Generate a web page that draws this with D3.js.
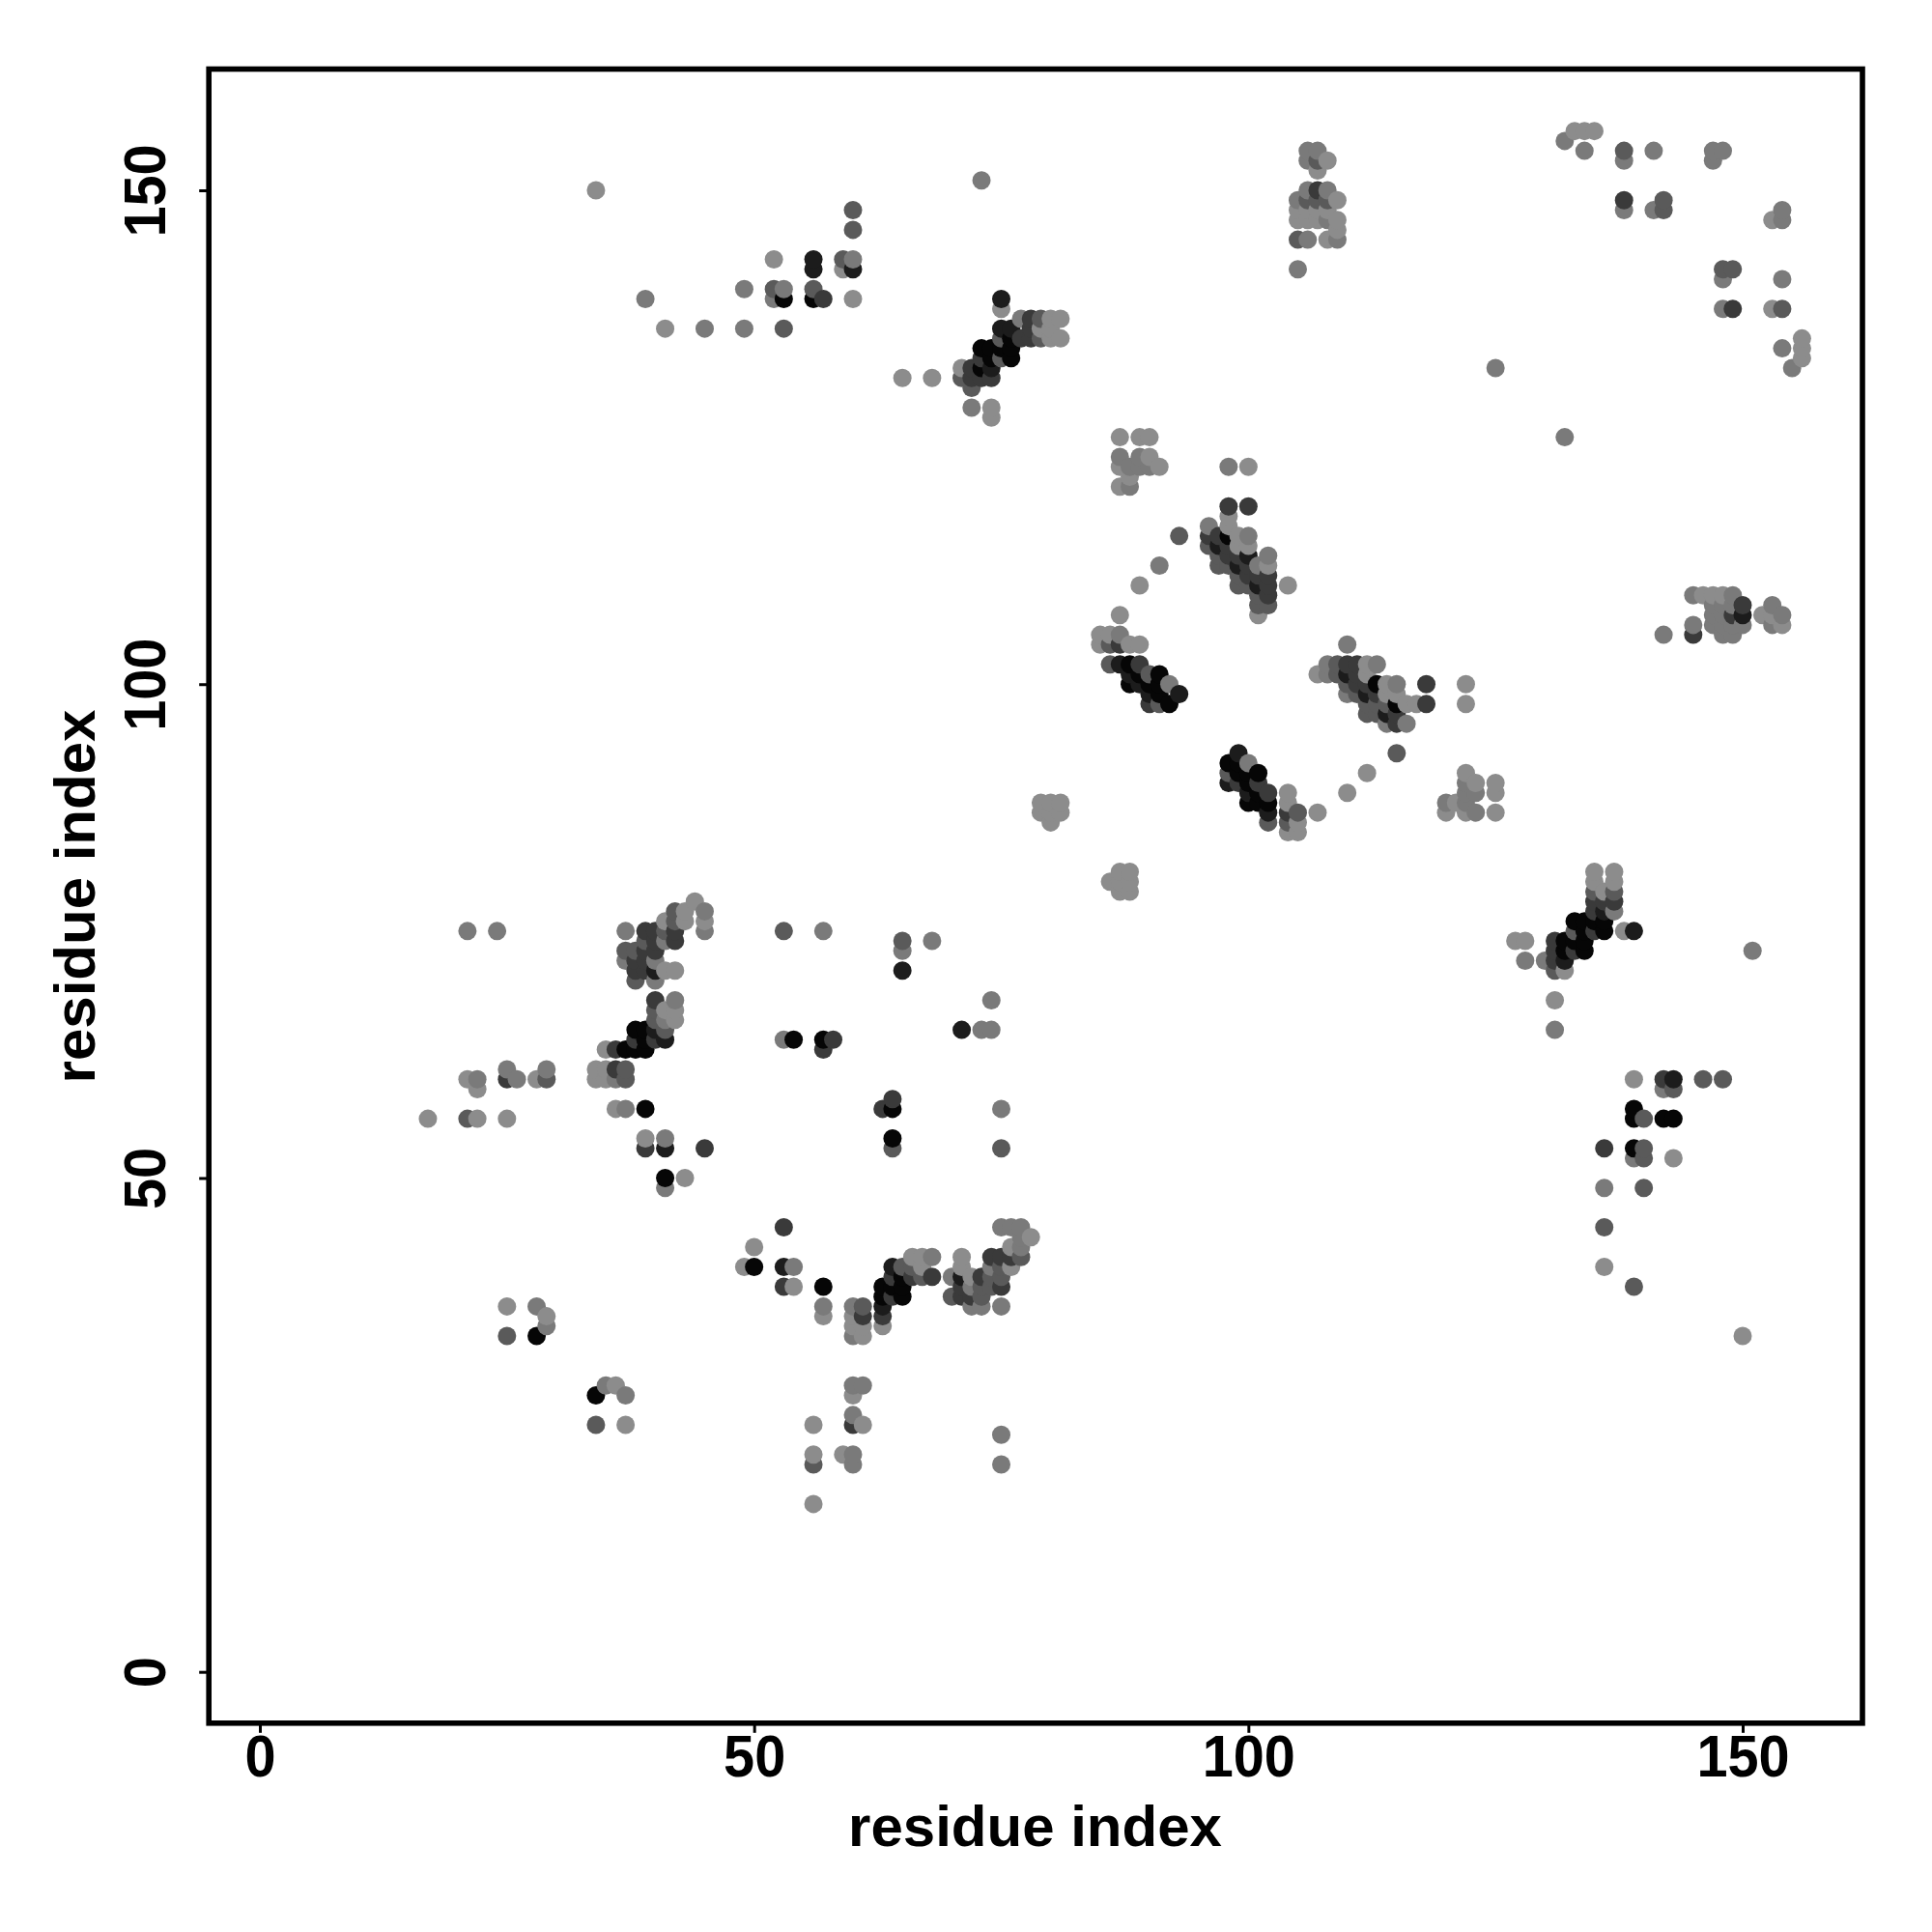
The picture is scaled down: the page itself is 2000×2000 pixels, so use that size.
<!DOCTYPE html>
<html><head><meta charset="utf-8">
<script src="https://cdnjs.cloudflare.com/ajax/libs/d3/7.9.0/d3.min.js"></script>
<style>html,body{margin:0;padding:0;background:#fff}svg{display:block}</style>
</head><body><div id="c"></div>
<script>
// contact strength classes, weakest to strongest
const L=1,M=2,D=3,K=4,N=5,B=6;
const strengthClasses=[L,M,D,K,N,B];
const grayLevels=[140,122,90,58,28,6];
const xTicks=[0,50,100,150], yTicks=[0,50,100,150];
const axisTitle="residue index";

const contactsLeft=[[17,56,L],[21,75,M],[24,75,M],[44,78,L],[42,77,D],[43,77,L],[45,77,M],[45,76,L],[45,75,M],[43,76,L],[41,76,L],[42,76,D],[42,75,K],[42,74,K],[41,75,D],[41,74,M],[39,75,K],[40,75,K],[37,75,M],[39,74,D],[40,74,K],[40,73,K],[37,73,D],[37,72,M],[38,73,D],[38,72,K],[38,71,K],[38,70,D],[39,73,K],[39,72,K],[39,71,K],[40,72,M],[40,70,M],[40,71,N],[41,71,L],[42,71,L],
[40,68,K],[42,68,M],[41,67,L],[42,67,L],[40,67,D],[42,66,L],[41,66,M],[40,66,D],[41,65,D],[41,64,N],[40,65,N],[40,64,K],[38,65,B],[39,65,B],[38,64,K],[39,64,B],[38,63,B],[39,63,B],[37,63,B],[36,63,K],[35,63,L],
[34,61,L],[35,61,L],[36,61,K],[37,61,D],[34,60,L],[35,60,L],[36,60,M],[37,60,D],[21,60,L],[22,60,M],[22,59,L],[25,61,M],[25,60,K],[26,60,M],[28,60,L],[29,61,M],[29,60,D],[36,57,L],[37,57,M],[39,57,B],[21,56,D],[22,56,L],[25,56,L],[39,54,L],[41,54,M],[39,53,K],[41,53,N],[45,53,K],[41,50,B],[41,49,M],[43,50,L],[50,43,L]];

const contactsBottom=[[25,37,L],[28,37,M],[29,36,L],[29,35,M],[25,34,D],[28,34,B],[34,28,B],[35,29,M],[36,29,L],[37,28,M],[34,25,D],[37,25,L],[49,41,L],[50,41,B],[53,45,K],[53,41,N],[54,41,M],[53,39,K],[54,39,L],[57,39,B],[57,37,M],[57,36,L],[60,37,M],[61,37,D],[60,36,L],[61,36,K],[61,35,L],[60,35,L],[60,34,M],[61,34,L],
[63,35,L],[63,36,K],[63,37,N],[63,38,B],[63,39,B],[64,41,N],[64,40,K],[64,39,B],[64,38,K],[65,40,B],[65,39,B],[65,38,B],[65,41,D],[66,42,L],[66,41,D],[66,40,K],[67,42,L],[67,41,L],[67,40,D],[68,42,M],[68,40,K],
[71,42,L],[71,41,L],[70,40,M],[71,40,N],[70,38,D],[71,39,K],[71,38,K],[72,40,L],[72,39,M],[72,38,K],[72,37,M],[73,40,K],[73,39,D],[73,38,D],[73,37,M],[74,42,K],[74,41,M],[74,40,D],[74,39,D],[75,42,K],[75,41,D],[75,40,D],[75,39,K],[75,37,M],[76,41,L],[76,43,L],[76,42,K],[77,42,D],[77,43,M],[77,44,M],[75,45,M],[76,45,M],[77,45,M],[78,44,L],
[60,29,M],[61,29,M],[60,28,L],[60,26,M],[60,25,K],[61,25,L],[56,25,L],[56,22,L],[56,21,D],[59,22,L],[60,22,M],[60,21,M],[56,17,L],[75,24,M],[75,21,M]];

const contactsMiddle=[[53,75,D],[57,75,M],[65,74,D],[65,73,M],[65,71,N],[68,74,M],[74,68,M],[71,65,N],[73,65,M],[74,65,M],[53,64,M],[54,64,B],[57,64,B],[57,63,K],[58,64,K],[64,58,K],[63,57,K],[64,57,B],[64,54,B],[64,53,D],[75,57,M],[75,53,D]];

const contactsTop=[[34,150,L],[60,148,D],[60,146,D],[39,139,M],[41,136,L],[45,136,M],[49,136,M],[53,136,D],[49,140,M],[52,143,L],[52,140,D],[52,139,M],[53,140,M],[53,139,B],[56,143,N],[56,142,N],[56,140,D],[56,139,B],[57,139,K],[59,143,D],[60,143,M],[59,142,L],[60,142,N],[60,139,L],[73,151,M],[65,131,L],[68,131,L],[71,132,L],[71,131,D],[72,132,K],[72,131,K],[72,130,D],[72,128,M],[74,128,L],[74,127,L],[73,134,B],[74,134,B],[73,133,K],[73,132,B],[73,131,K],[74,133,B],[74,132,N],[74,131,K],[75,139,N],[75,138,L],[75,136,N],[75,135,D],[75,134,B],[75,133,D],[76,136,N],[76,135,B],[76,134,B],[76,133,B],[77,137,M],[77,135,K],[78,137,K],[78,136,K],[78,135,K],[79,137,D],[79,136,L],[79,135,D],[80,137,L],[80,135,L],[81,137,L],[81,135,L],[80,136,L]];

const contactsCentre=[[87,125,L],[89,125,L],[90,125,L],[87,123,M],[87,122,L],[88,122,M],[89,123,M],[90,123,L],[89,122,M],[90,122,M],[91,122,L],[87,120,L],[88,121,L],[88,120,M],
[98,122,M],[100,122,L],[98,118,K],[100,118,K],[98,117,L],[98,116,L],[93,115,D],[91,112,M],[89,110,L],[96,116,M],[96,115,K],[96,114,D],[97,115,K],[97,114,N],[97,113,D],[97,112,D],[98,115,B],[98,114,K],[98,113,K],[98,112,D],[99,115,L],[99,114,L],[99,113,K],[99,112,N],[99,111,D],[99,110,D],[100,115,M],[100,114,L],[100,113,N],[100,112,K],[100,111,K],[100,110,D],[101,112,M],[101,111,K],[101,110,N],[101,109,D],[101,108,D],[101,107,L],[102,113,M],[102,112,L],[102,111,K],[102,110,K],[102,109,K],[102,108,D],[104,110,L],
[87,107,L],[85,105,L],[86,105,L],[87,105,M],[85,104,L],[86,104,D],[87,104,K],[88,104,L],[89,104,L],
[86,102,D],[87,102,N],[88,102,B],[89,102,K],[88,101,N],[88,100,B],[89,101,B],[89,100,N],[90,101,D],[90,100,B],[90,99,N],[90,98,K],[91,101,B],[91,100,B],[91,99,B],[91,98,D],[92,100,M],[92,98,B],[93,99,N],
[99,93,N],[98,92,B],[98,91,D],[98,90,N],[99,92,B],[99,91,B],[99,90,K],[100,92,M],[100,91,B],[100,90,B],[100,89,N],[100,88,B],[101,91,B],[101,90,K],[101,89,B],[101,88,B],[102,89,K],[102,88,B],[102,87,N],[102,86,D],[104,89,L],[104,88,L],[104,87,K],[104,86,D],[104,85,L],[105,87,D],[105,86,L],[105,85,L],[107,87,L],[110,89,L],[112,91,L],[115,93,D],
[110,104,M],[107,101,L],[108,102,M],[108,101,M],[109,102,D],[109,101,D],[110,102,K],[110,101,N],[110,100,D],[110,99,M],[111,102,K],[111,101,K],[111,100,K],[111,99,D],[112,102,L],[112,101,L],[112,100,K],[112,99,N],[112,98,D],[112,97,D],[113,102,M],[113,100,B],[113,99,K],[113,98,D],[113,97,D],[114,100,L],[114,99,L],[114,98,D],[114,97,N],[114,96,M],[115,100,M],[115,99,L],[115,98,B],[115,97,K],[115,96,K],[116,98,L],[116,96,M],[117,98,L],[118,100,K],[118,98,K],[122,100,L],[122,98,L],
[79,88,L],[80,88,L],[81,88,L],[79,87,L],[80,87,L],[81,87,L],[80,86,L],[86,80,L],[87,81,L],[88,81,L],[87,80,L],[88,80,L],[87,79,L],[88,79,L]];

const contactsRight=[[122,91,L],[123,90,L],[122,90,M],[123,89,M],[122,89,M],[122,88,M],[120,88,M],[120,87,L],[121,88,L],[122,87,L],[123,87,M],[125,90,L],[125,89,L],[125,87,L],
[127,74,L],[128,74,L],[128,72,M],[130,72,M],[131,74,K],[131,73,K],[131,72,K],[131,71,D],[132,74,B],[132,73,B],[132,72,N],[132,71,L],[133,76,B],[133,75,D],[133,74,B],[133,73,K],[134,76,B],[134,75,B],[134,74,B],[134,73,B],[135,81,L],[135,80,L],[135,79,D],[135,78,K],[135,77,K],[135,76,B],[135,75,K],[136,76,B],[136,75,B],[136,79,L],[136,78,K],[136,77,N],[137,81,L],[137,80,L],[137,79,D],[137,78,K],[137,77,M],[138,75,L],[139,75,N],[131,68,L],[131,65,M],[151,73,M],[150,34,L],
[139,60,L],[142,60,K],[143,60,N],[142,59,M],[143,59,D],[146,60,D],[148,60,D],[139,57,B],[139,56,B],[140,56,D],[142,56,B],[143,56,B],[139,53,B],[140,53,D],[136,53,K],[139,52,M],[140,52,D],[143,52,L],[136,49,M],[140,49,D],[136,45,D],[136,41,L],[139,39,D],
[142,105,M],[145,109,M],[145,106,M],[145,105,K],[146,109,L],[147,109,L],[147,108,M],[147,107,M],[147,106,M],[148,109,L],[148,108,M],[148,107,M],[148,106,M],[148,105,M],[149,109,M],[149,108,M],[149,107,K],[149,106,M],[149,105,M],[150,108,K],[150,107,N],[150,106,M],[152,107,L],[153,108,M],[153,107,L],[153,106,M],[154,107,M],[154,106,L]];

const contactsUpper=[[105,142,M],[105,145,D],[106,145,M],[108,145,L],[109,145,M],[109,146,L],[109,147,L],[109,149,L],[105,149,M],[105,148,L],[105,147,L],[106,150,M],[106,149,D],[106,148,L],[106,147,L],[107,150,K],[107,149,D],[107,148,L],[107,147,L],[108,150,M],[108,149,D],[108,148,L],[108,147,M],[106,154,M],[107,154,M],[106,153,M],[107,153,D],[108,153,L],[107,152,L],[125,132,M],
[132,155,M],[134,154,M],[133,156,L],[134,156,L],[135,156,L],[138,154,D],[138,153,M],[141,154,M],[147,154,M],[148,154,M],[147,153,M],[138,149,K],[138,148,M],[141,148,M],[142,149,D],[142,148,D],[153,147,L],[154,148,M],[154,147,M],[148,142,D],[149,142,D],[148,141,M],[154,141,M],[148,138,M],[149,138,K],[153,138,L],[154,138,D],[154,134,M],[156,135,L],[156,134,L],[156,133,L],[155,132,M],[132,125,M]];

const frame={left:216.2,right:1928,top:71.5,bottom:1783.8};
const xScale=d3.scaleLinear().domain([0,150]).range([269,1804]);
const yScale=d3.scaleLinear().domain([0,150]).range([1730.7,197]);
const gray=d3.scaleOrdinal().domain(strengthClasses).range(grayLevels);

const svg=d3.select("#c").append("svg").attr("width",2000).attr("height",2000);
svg.append("rect").attr("width",2000).attr("height",2000).attr("fill","#fff");

const contacts=[...contactsLeft,...contactsBottom,...contactsMiddle,...contactsTop,...contactsCentre,...contactsRight,...contactsUpper]
  .sort((a,b)=>d3.ascending(a[0],b[0])||d3.ascending(a[1],b[1]));

svg.append("g").selectAll("circle").data(contacts).join("circle")
  .attr("cx",d=>xScale(d[0])).attr("cy",d=>yScale(d[1])).attr("r",9.5)
  .attr("fill",d=>{const v=gray(d[2]);return d3.rgb(v,v,v).formatHex();});

const font="'Liberation Sans',Arial,Helvetica,sans-serif";
const xAxis=svg.append("g").attr("transform",`translate(0,${frame.bottom})`)
  .call(d3.axisBottom(xScale).tickValues(xTicks).tickSize(10).tickFormat(d3.format("d")));
const yAxis=svg.append("g").attr("transform",`translate(${frame.left},0)`)
  .call(d3.axisLeft(yScale).tickValues(yTicks).tickSize(10).tickFormat(d3.format("d")));
[xAxis,yAxis].forEach(a=>{
  a.select(".domain").remove();
  a.selectAll("line").attr("stroke","#000").attr("stroke-width",3);
  a.selectAll("text").attr("fill","#000").style("font-family",font).style("font-weight","700").style("font-size","62px");
});
xAxis.selectAll("text").attr("dy",null).attr("y",null)
  .attr("transform","translate(0,55) scale(0.93,1)");
yAxis.selectAll("text").attr("x",null).attr("dy",null).attr("text-anchor","middle")
  .attr("transform","translate(-45,0) rotate(-90) scale(0.93,1)");

svg.append("rect").attr("x",frame.left).attr("y",frame.top)
  .attr("width",frame.right-frame.left).attr("height",frame.bottom-frame.top)
  .attr("fill","none").attr("stroke","#000").attr("stroke-width",5.6);

svg.append("text").attr("x",1071.5).attr("y",1911).attr("text-anchor","middle")
  .style("font-family",font).style("font-weight","700").style("font-size","60px").text(axisTitle);
svg.append("text").attr("transform","translate(98,928) rotate(-90)").attr("text-anchor","middle")
  .style("font-family",font).style("font-weight","700").style("font-size","60px").text(axisTitle);
</script></body></html>
